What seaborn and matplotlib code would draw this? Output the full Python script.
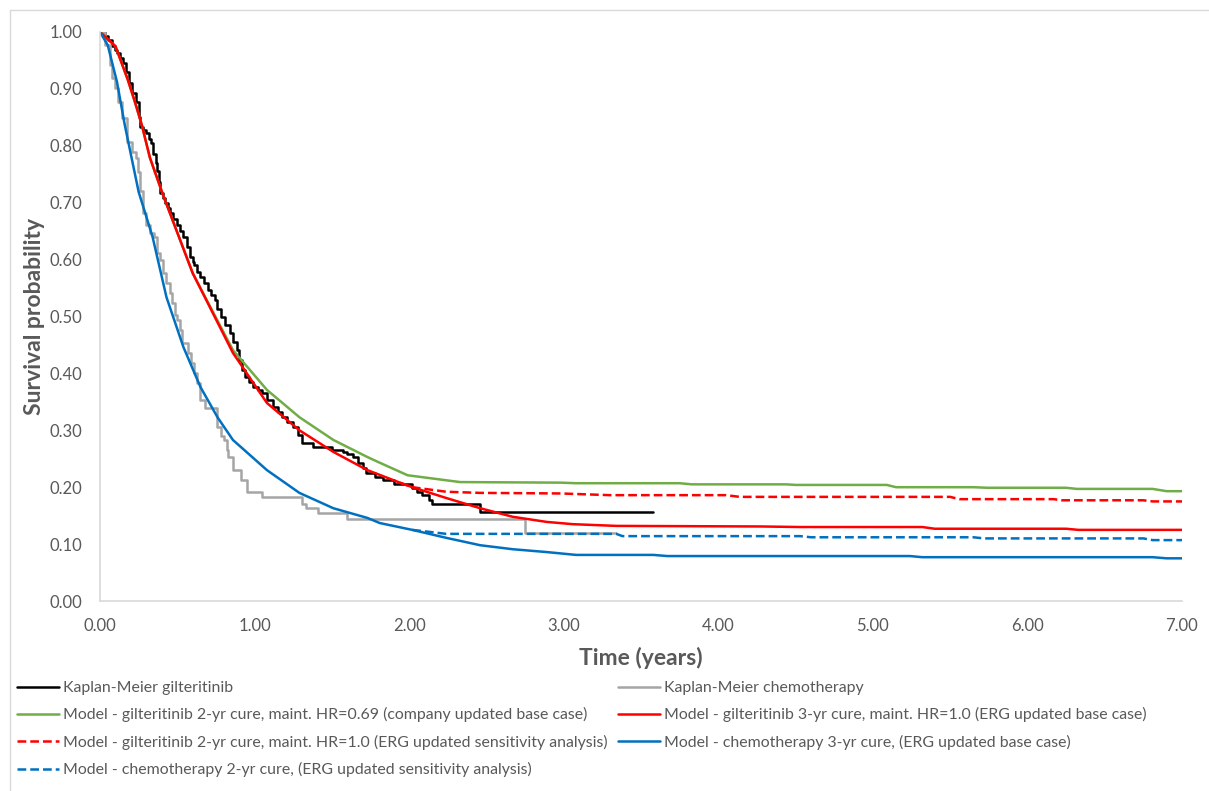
import matplotlib
matplotlib.use("Agg")
import matplotlib.pyplot as plt
from matplotlib.lines import Line2D
import seaborn as sns

# Kaplan-Meier gilteritinib (step function)
km_gilt_t = [0.0, 0.03, 0.05, 0.08, 0.10, 0.11, 0.13, 0.15, 0.17, 0.19, 0.21, 0.23,
             0.25, 0.26, 0.28, 0.30, 0.32, 0.33, 0.345, 0.36, 0.37, 0.38, 0.39, 0.41,
             0.42, 0.44, 0.45, 0.475, 0.50, 0.52, 0.54, 0.56, 0.58, 0.60, 0.61, 0.63,
             0.65, 0.675, 0.70, 0.72, 0.745, 0.76, 0.78, 0.81, 0.84, 0.86, 0.885, 0.90,
             0.92, 0.94, 0.965, 0.99, 1.02, 1.05, 1.08, 1.12, 1.15, 1.18, 1.21, 1.25,
             1.28, 1.31, 1.38, 1.50, 1.57, 1.60, 1.64, 1.67, 1.70, 1.72, 1.78, 1.83,
             1.90, 2.02, 2.05, 2.08, 2.13, 2.15, 2.46, 3.58]
km_gilt_s = [1.0, 0.993, 0.986, 0.975, 0.968, 0.963, 0.954, 0.946, 0.930, 0.910, 0.893, 0.877,
             0.850, 0.833, 0.828, 0.822, 0.812, 0.805, 0.785, 0.770, 0.755, 0.737, 0.717, 0.708,
             0.700, 0.690, 0.682, 0.672, 0.660, 0.650, 0.640, 0.622, 0.605, 0.596, 0.590, 0.579,
             0.569, 0.558, 0.547, 0.538, 0.529, 0.514, 0.499, 0.485, 0.471, 0.456, 0.441, 0.423,
             0.406, 0.394, 0.385, 0.376, 0.371, 0.366, 0.353, 0.341, 0.332, 0.323, 0.315, 0.306,
             0.292, 0.278, 0.271, 0.266, 0.262, 0.258, 0.253, 0.243, 0.233, 0.225, 0.218, 0.213,
             0.206, 0.199, 0.192, 0.186, 0.178, 0.170, 0.156, 0.156]

# Kaplan-Meier chemotherapy (step function)
km_chemo_t = [0.0, 0.03, 0.065, 0.08, 0.097, 0.117, 0.14, 0.175, 0.207, 0.23, 0.245, 0.26,
              0.28, 0.30, 0.323, 0.35, 0.37, 0.39, 0.41, 0.43, 0.45, 0.465, 0.485, 0.50,
              0.52, 0.53, 0.57, 0.59, 0.61, 0.63, 0.65, 0.68, 0.76, 0.78, 0.80, 0.82,
              0.83, 0.86, 0.91, 0.95, 1.05, 1.31, 1.33, 1.41, 1.60, 2.75, 3.34]
km_chemo_s = [1.0, 0.977, 0.942, 0.919, 0.902, 0.877, 0.849, 0.807, 0.789, 0.779, 0.754, 0.720,
              0.682, 0.660, 0.647, 0.640, 0.612, 0.599, 0.576, 0.559, 0.541, 0.524, 0.503, 0.494,
              0.476, 0.453, 0.436, 0.418, 0.400, 0.383, 0.353, 0.340, 0.306, 0.290, 0.283, 0.265,
              0.253, 0.230, 0.213, 0.192, 0.183, 0.170, 0.163, 0.155, 0.144, 0.120, 0.120]

# Model - gilteritinib 2-yr cure, maint. HR=0.69
gilt_2yr_069_t = [0.0, 0.10, 0.18, 0.226, 0.27, 0.323, 0.41, 0.60, 0.86, 1.08, 1.29, 1.51,
                  1.73, 1.81, 1.99, 2.33, 2.98, 3.08, 3.75, 3.83, 4.44, 4.50, 5.09, 5.15,
                  5.65, 5.74, 6.25, 6.32, 6.81, 6.90, 7.0]
gilt_2yr_069_s = [1.0, 0.975, 0.916, 0.877, 0.837, 0.779, 0.712, 0.576, 0.441, 0.371, 0.323, 0.283,
                  0.253, 0.243, 0.221, 0.209, 0.208, 0.207, 0.207, 0.205, 0.205, 0.204, 0.204, 0.200,
                  0.200, 0.199, 0.199, 0.197, 0.197, 0.193, 0.193]

# Model - gilteritinib 3-yr cure, maint. HR=1.0
gilt_3yr_10_t = [0.0, 0.10, 0.18, 0.226, 0.27, 0.323, 0.41, 0.60, 0.86, 1.08, 1.29, 1.51,
                 1.73, 1.94, 2.02, 2.24, 2.46, 2.67, 2.89, 3.06, 3.34, 4.27, 4.53, 5.32,
                 5.40, 6.25, 6.33, 7.0]
gilt_3yr_10_s = [1.0, 0.975, 0.916, 0.877, 0.837, 0.779, 0.712, 0.576, 0.436, 0.348, 0.300, 0.262,
                 0.230, 0.208, 0.200, 0.181, 0.163, 0.148, 0.139, 0.135, 0.132, 0.131, 0.130, 0.130,
                 0.127, 0.127, 0.125, 0.125]

# Model - gilteritinib 2-yr cure, maint. HR=1.0 (diverges after year 2)
gilt_2yr_10_t = [1.94, 2.02, 2.24, 2.46, 2.98, 3.30, 4.05, 4.14, 5.50, 5.56, 6.17, 6.22,
                 6.75, 6.81, 7.0]
gilt_2yr_10_s = [0.208, 0.200, 0.192, 0.190, 0.189, 0.186, 0.186, 0.183, 0.183, 0.179, 0.179, 0.177,
                 0.177, 0.175, 0.175]

# Model - chemotherapy 3-yr cure
chemo_3yr_t = [0.0, 0.05, 0.11, 0.16, 0.25, 0.34, 0.43, 0.54, 0.65, 0.76, 0.86, 1.08,
               1.29, 1.51, 1.73, 1.81, 2.02, 2.24, 2.46, 2.67, 2.89, 3.08, 3.58, 3.67,
               5.24, 5.32, 6.81, 6.90, 7.0]
chemo_3yr_s = [1.0, 0.977, 0.912, 0.837, 0.719, 0.640, 0.534, 0.446, 0.376, 0.323, 0.283, 0.230,
               0.190, 0.163, 0.146, 0.137, 0.125, 0.111, 0.098, 0.091, 0.086, 0.081, 0.081, 0.079,
               0.079, 0.077, 0.077, 0.075, 0.075]

# Model - chemotherapy 2-yr cure (diverges after year 2)
chemo_2yr_t = [2.02, 2.24, 3.34, 3.38, 4.53, 4.60, 5.65, 5.72, 6.75, 6.81, 7.0]
chemo_2yr_s = [0.125, 0.118, 0.118, 0.114, 0.114, 0.112, 0.112, 0.110, 0.110, 0.107, 0.107]

labels = [
    "Kaplan-Meier gilteritinib",
    "Kaplan-Meier chemotherapy",
    "Model - gilteritinib 2-yr cure, maint. HR=0.69 (company updated base case)",
    "Model - gilteritinib 3-yr cure, maint. HR=1.0 (ERG updated base case)",
    "Model - gilteritinib 2-yr cure, maint. HR=1.0 (ERG updated sensitivity analysis)",
    "Model - chemotherapy 3-yr cure, (ERG updated base case)",
    "Model - chemotherapy 2-yr cure, (ERG updated sensitivity analysis)",
]
x_ticks = [0, 1, 2, 3, 4, 5, 6, 7]
y_ticks = [0.0, 0.1, 0.2, 0.3, 0.4, 0.5, 0.6, 0.7, 0.8, 0.9, 1.0]

sns.set_theme(style="white")
plt.rcParams["font.family"] = ["Lato", "DejaVu Sans"]

TEXT = "#595959"
AXIS = "#D9D9D9"
DASH = (0, (3.5, 1.6))

fig = plt.figure(figsize=(12.09, 7.91), dpi=100)
ax = fig.add_axes([100 / 1209, 190 / 791, 1082 / 1209, 569 / 791])

series = [
    (km_gilt_t, km_gilt_s, "#000000", "-", True),
    (km_chemo_t, km_chemo_s, "#A5A5A5", "-", True),
    (gilt_2yr_069_t, gilt_2yr_069_s, "#70AD47", "-", False),
    (gilt_3yr_10_t, gilt_3yr_10_s, "#FF0000", "-", False),
    (gilt_2yr_10_t, gilt_2yr_10_s, "#FF0000", DASH, False),
    (chemo_3yr_t, chemo_3yr_s, "#0070C0", "-", False),
    (chemo_2yr_t, chemo_2yr_s, "#0070C0", DASH, False),
]

for (t, s, color, ls, step), lab in zip(series, labels):
    kw = dict(drawstyle="steps-post") if step else {}
    sns.lineplot(x=t, y=s, ax=ax, color=color, linestyle=ls, linewidth=1.8,
                 estimator=None, sort=False, label=lab, **kw)

if ax.get_legend() is not None:
    ax.get_legend().remove()

ax.set_xlim(0, 7)
ax.set_ylim(0, 1)
ax.set_xticks(x_ticks)
ax.set_xticklabels([f"{v:.2f}" for v in x_ticks])
ax.set_yticks(y_ticks)
ax.set_yticklabels([f"{v:.2f}" for v in y_ticks])
ax.tick_params(axis="both", length=0, labelsize=12, labelcolor=TEXT)
ax.tick_params(axis="y", pad=13)
ax.tick_params(axis="x", pad=12)

for side in ("top", "right"):
    ax.spines[side].set_visible(False)
for side in ("left", "bottom"):
    ax.spines[side].set_color(AXIS)
    ax.spines[side].set_linewidth(1.2)

ax.set_xlabel("Time (years)", fontsize=16.5, fontweight="bold", color=TEXT)
ax.set_ylabel("Survival probability", fontsize=16.5, fontweight="bold", color=TEXT)
ax.xaxis.set_label_coords(0.5, -0.080)
ax.yaxis.set_label_coords(-0.051, 0.5)

handles, _ = ax.get_legend_handles_labels()
left_cols = [0, 2, 4, 6]
right_cols = [1, 3, 5]
common = dict(loc="upper left", frameon=False, handlelength=2.65, handletextpad=0.25,
              labelspacing=0.78, borderpad=0, borderaxespad=0, fontsize=11.4,
              labelcolor=TEXT)
fig.legend(handles=[handles[i] for i in left_cols], labels=[labels[i] for i in left_cols],
           bbox_to_anchor=(17 / 1209, 1 - 681 / 791), **common)
fig.legend(handles=[handles[i] for i in right_cols], labels=[labels[i] for i in right_cols],
           bbox_to_anchor=(618 / 1209, 1 - 681 / 791), **common)

# light chart-area border along the top and left edges
fig.add_artist(Line2D([10 / 1209, 10 / 1209], [0, 1 - 10 / 791], transform=fig.transFigure,
                      color=AXIS, linewidth=1))
fig.add_artist(Line2D([10 / 1209, 1], [1 - 10 / 791, 1 - 10 / 791], transform=fig.transFigure,
                      color=AXIS, linewidth=1))

fig.savefig("out.png", dpi=100)
